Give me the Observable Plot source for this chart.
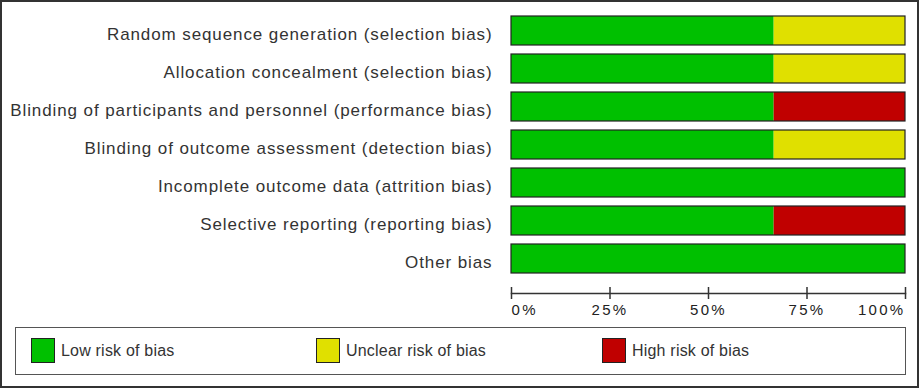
<!DOCTYPE html>
<html>
<head>
<meta charset="utf-8">
<script src="https://cdn.jsdelivr.net/npm/d3@7"></script>
<script src="https://cdn.jsdelivr.net/npm/@observablehq/plot@0.6"></script>
<style>
  html, body { margin: 0; padding: 0; background: #fff; }
  #wrap { position: relative; width: 921px; height: 389px; overflow: hidden; font-family: "Liberation Sans", Arial, sans-serif; }
  #outer { position: absolute; left: 0; top: 0; width: 919px; height: 388px; box-sizing: border-box; border: 2px solid #333; pointer-events: none; }
  #chart { position: absolute; left: 0; top: 0; }
  #chart g[aria-label="y-axis tick label"] text { letter-spacing: 0.9px; }
  #chart g[aria-label="text"] text { letter-spacing: 2.3px; }
  #legend { position: absolute; left: 15px; top: 327px; width: 891px; height: 48px; box-sizing: border-box; border: 1px solid #555; }
  .item { position: absolute; top: 10px; height: 25px; display: flex; align-items: center; font-size: 16px; color: #333; letter-spacing: 0.2px; }
  .sw { width: 24px; height: 25px; box-sizing: border-box; border: 1px solid #222; margin-right: 6px; }
</style>
</head>
<body>
<div id="wrap">
  <div id="chart"></div>
  <div id="legend"></div>
  <div id="outer"></div>
</div>
<script>
// Domains (rows, top to bottom)
const domains = [
  "Random sequence generation (selection bias)",
  "Allocation concealment (selection bias)",
  "Blinding of participants and personnel (performance bias)",
  "Blinding of outcome assessment (detection bias)",
  "Incomplete outcome data (attrition bias)",
  "Selective reporting (reporting bias)",
  "Other bias"
];
// Proportion of studies per judgement
const lowRisk     = [2/3, 2/3, 2/3, 2/3, 1, 2/3, 1];
const unclearRisk = [1/3, 1/3, 0,   1/3, 0, 0,   0];
const highRisk    = [0,   0,   1/3, 0,   0, 1/3, 0];
const judgements = ["Low risk of bias", "Unclear risk of bias", "High risk of bias"];
const judgementColors = ["#00C000", "#E0E000", "#C00000"];
const tickValues = [0, 0.25, 0.5, 0.75, 1];
const tickLabels = ["0%", "25%", "50%", "75%", "100%"];

const series = [lowRisk, unclearRisk, highRisk];
const rows = [];
domains.forEach((d, i) => {
  judgements.forEach((j, k) => {
    rows.push({domain: d, judgement: j, value: series[k][i]});
  });
});

const ticks = tickValues.map((v, i) => ({v, label: tickLabels[i]}));
const tickText = (data, anchor) => Plot.text(data, {
  x: "v", text: "label", frameAnchor: "bottom", lineAnchor: "middle",
  dy: 17, textAnchor: anchor, fill: "#222", fontSize: 15
});

const chart = Plot.plot({
  width: 921,
  height: 389,
  marginLeft: 511,
  marginRight: 16,
  marginTop: 6,
  marginBottom: 96,
  style: {fontFamily: "Liberation Sans, Arial, sans-serif", fontSize: "17px", background: "transparent", color: "#333"},
  x: {domain: [0, 1], axis: null},
  y: {domain: domains, range: [6, 282], padding: 0.237, axis: null},
  color: {domain: judgements, range: judgementColors},
  marks: [
    Plot.barX(rows, Plot.stackX({x: "value", y: "domain", fill: "judgement", order: judgements})),
    Plot.barX(domains, {x1: 0, x2: 1, y: d => d, fill: "none", stroke: "#222", strokeWidth: 1.2}),
    Plot.axisY({tickSize: 0, tickPadding: 19, dy: 4, label: null, fill: "#333", fontSize: 17}),
    Plot.frame({anchor: "bottom", stroke: "#333", strokeWidth: 1.5}),
    Plot.axisX({ticks: tickValues, tickSize: 12, dy: -6, fill: "none", stroke: "#333", strokeWidth: 1.5, label: null}),
    tickText(ticks.slice(0, 1), "start"),
    tickText(ticks.slice(1, -1), "middle"),
    tickText(ticks.slice(-1), "end")
  ]
});
document.getElementById("chart").appendChild(chart);

const legend = document.getElementById("legend");
const legendLeft = [15, 300, 586];
judgements.forEach((j, k) => {
  const item = document.createElement("div");
  item.className = "item";
  item.style.left = legendLeft[k] + "px";
  const sw = document.createElement("div");
  sw.className = "sw";
  sw.style.background = judgementColors[k];
  item.appendChild(sw);
  const t = document.createElement("span");
  t.textContent = j;
  item.appendChild(t);
  legend.appendChild(item);
});
</script>
</body>
</html>
